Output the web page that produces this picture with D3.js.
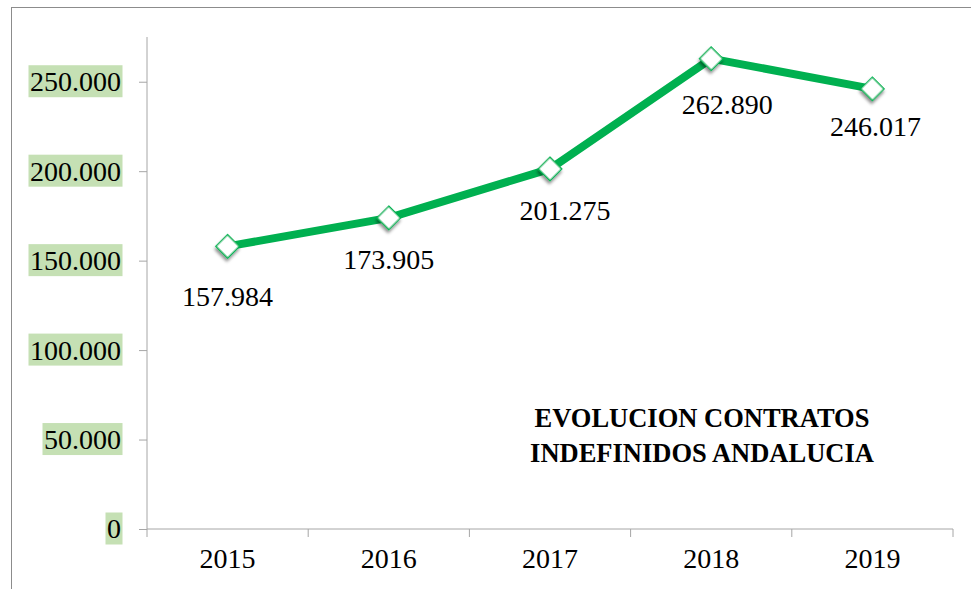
<!DOCTYPE html>
<html>
<head>
<meta charset="utf-8">
<script src="https://cdn.jsdelivr.net/npm/d3@7"></script>
<style>
  html, body { margin: 0; padding: 0; background: #fff; }
  svg { display: block; }
  text { font-family: "Liberation Serif", "DejaVu Serif", serif; }
</style>
</head>
<body>
<svg id="chart" width="971" height="589"></svg>
<script>
// ---- data ----
const years = ["2015", "2016", "2017", "2018", "2019"];
const contratos = [157984, 173905, 201275, 262890, 246017];
const yTicks = [0, 50000, 100000, 150000, 200000, 250000];
const titleLines = ["EVOLUCION CONTRATOS", "INDEFINIDOS ANDALUCIA"];
// label nudges (layout only)
const labelNudge = [[0, 60], [0, 51], [15, 51], [16, 55], [3, 47]];

const W = 971, H = 589;
const svg = d3.select("#chart");

const es = d3.formatLocale({ decimal: ",", thousands: ".", grouping: [3], currency: ["", "€"] });
const fmt = es.format(",d");

const x = d3.scaleBand().domain(years).range([147, 953]).padding(0);
const y = d3.scaleLinear().domain([0, 275000]).range([529, 37]);
const cx = d => x(d) + x.bandwidth() / 2;

const defs = svg.append("defs");
const f = defs.append("filter").attr("id", "shadow").attr("x", "-50%").attr("y", "-50%").attr("width", "200%").attr("height", "200%");
f.append("feDropShadow").attr("dx", 1.5).attr("dy", 2.5).attr("stdDeviation", 1.8).attr("flood-color", "#000").attr("flood-opacity", 0.45);

// outer border (chart area)
svg.append("rect").attr("x", 11.5).attr("y", 7.5).attr("width", 1000).attr("height", 1000)
  .attr("fill", "none").attr("stroke", "#8c8c8c").attr("stroke-width", 1);

// y axis
const yAxis = svg.append("g").attr("transform", "translate(147,0)")
  .call(d3.axisLeft(y).tickValues(yTicks).tickSize(8).tickPadding(18).tickFormat(fmt));
yAxis.select(".domain").attr("stroke", "#a6a6a6").attr("d", `M0,${y(275000)}V${y(0)}`);
yAxis.selectAll(".tick line").attr("stroke", "#a6a6a6");
yAxis.selectAll(".tick text").attr("font-size", 28).attr("fill", "#000")
  .attr("font-family", "Liberation Serif").attr("dy", "0.32em");
// green highlight boxes behind y labels
yAxis.selectAll(".tick").each(function () {
  const t = d3.select(this).select("text");
  const bb = t.node().getBBox();
  d3.select(this).insert("rect", "text")
    .attr("x", bb.x - 1.5).attr("y", -17).attr("width", bb.width + 3).attr("height", 32)
    .attr("fill", "#c5e0b4");
});

// x axis
const xAxis = svg.append("g").attr("transform", `translate(0,${y(0)})`)
  .call(d3.axisBottom(x).tickSize(0).tickPadding(32));
xAxis.select(".domain").attr("stroke", "#a6a6a6").attr("d", `M147,0H953`);
xAxis.selectAll(".tick text").attr("font-size", 28).attr("fill", "#000")
  .attr("font-family", "Liberation Serif").attr("dy", "0.25em");
const bounds = years.map(d => x(d)).concat([x(years[years.length - 1]) + x.bandwidth()]);
xAxis.selectAll("line.bt").data(bounds).enter().append("line").attr("class", "bt")
  .attr("x1", d => d).attr("x2", d => d).attr("y1", 0).attr("y2", 8)
  .attr("stroke", "#a6a6a6");

// line
const pts = years.map((yr, i) => ({ yr, v: contratos[i], i }));
svg.append("path").datum(pts)
  .attr("d", d3.line().x(d => cx(d.yr)).y(d => y(d.v)))
  .attr("fill", "none").attr("stroke", "#00b050").attr("stroke-width", 8)
  .attr("stroke-linejoin", "round");

// markers
const sym = d3.symbol().type(d3.symbolSquare).size(16.5 * 16.5);
svg.selectAll("path.mk").data(pts).enter().append("path").attr("class", "mk")
  .attr("d", sym)
  .attr("transform", d => `translate(${cx(d.yr)},${y(d.v)}) rotate(45)`)
  .attr("fill", "#fff").attr("stroke", "#00b050").attr("stroke-width", 1.3)
  .attr("filter", "url(#shadow)");

// data labels
svg.selectAll("text.lbl").data(pts).enter().append("text").attr("class", "lbl")
  .attr("x", d => cx(d.yr) + labelNudge[d.i][0])
  .attr("y", d => y(d.v) + labelNudge[d.i][1])
  .attr("text-anchor", "middle").attr("font-size", 28).attr("fill", "#000")
  .text(d => fmt(d.v));

// title
svg.append("text").attr("x", 702).attr("y", 427).attr("text-anchor", "middle")
  .attr("font-size", 26.5).attr("font-weight", "bold").attr("fill", "#000")
  .selectAll("tspan").data(titleLines).enter().append("tspan")
  .attr("x", 702).attr("dy", (d, i) => i === 0 ? 0 : 35).text(d => d);
</script>
</body>
</html>
